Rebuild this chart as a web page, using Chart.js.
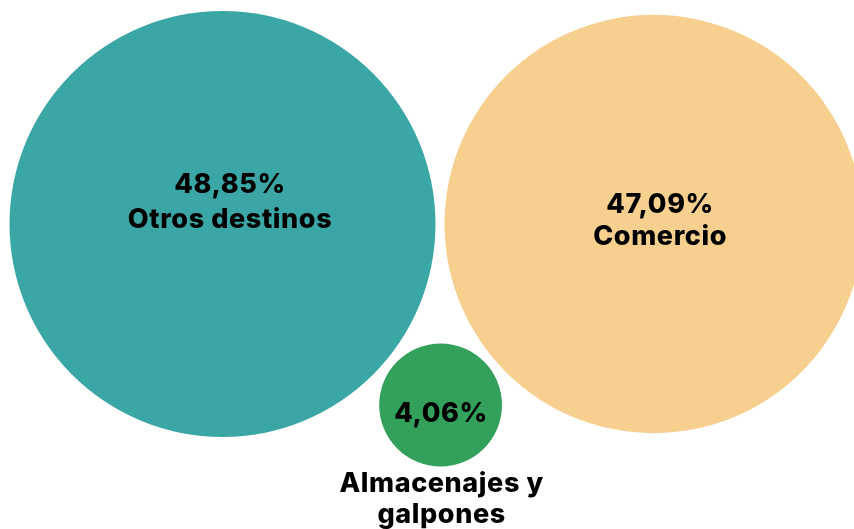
<!DOCTYPE html>
<html>
<head>
<meta charset="utf-8">
<script src="https://cdn.jsdelivr.net/npm/chart.js@4.4.0/dist/chart.umd.min.js"></script>
<style>
  html, body { margin: 0; padding: 0; background: #ffffff; }
</style>
</head>
<body>
<canvas id="bubbleChart" width="854" height="529"></canvas>
<script>
// data
const categories = ['Otros destinos', 'Comercio', 'Almacenajes y galpones'];
const shares = [48.85, 47.09, 4.06];
const valueLabels = ['48,85%', '47,09%', '4,06%'];
const colors = ['#3AA6A5', '#F7CF8F', '#33A05B'];

// label text: lines inside the bubble, lines below it
const innerLines = [['48,85%', 'Otros destinos'], ['47,09%', 'Comercio'], ['4,06%']];
const outerLines = [[], [], ['Almacenajes y', 'galpones']];

// area-proportional radii, packed: two big side by side, small one under the gap
const W = 854, H = 529;
const maxRadius = 213, gap = 9;
const k = maxRadius / Math.sqrt(Math.max(...shares));
const radii = shares.map(v => k * Math.sqrt(v));

function packBubbles(r) {
    const c1 = { x: 222.5, y: 224 };
    const D = r[0] + r[1] + gap;
    const c2 = { x: c1.x + D, y: c1.y };
    const d1 = r[0] + r[2] + gap, d2 = r[1] + r[2] + gap;
    const a = (d1 * d1 - d2 * d2 + D * D) / (2 * D);
    const h = Math.sqrt(d1 * d1 - a * a);
    const c3 = { x: c1.x + a, y: c1.y + h };
    return [c1, c2, c3];
}
const centers = packBubbles(radii);

const labelPlugin = {
    id: 'bubbleLabels',
    afterDatasetsDraw(chart) {
        const ctx = chart.ctx;
        const meta = chart.getDatasetMeta(0);
        ctx.save();
        ctx.fillStyle = '#000000';
        ctx.font = '800 27px Inter, "Liberation Sans", sans-serif';
        ctx.letterSpacing = '0.6px';
        ctx.textAlign = 'center';
        ctx.textBaseline = 'alphabetic';
        // per bubble: x shift, first baseline shift, line step
        const place = [[7.5, -31, 35], [6.5, -11, 32], [0.5, 17, 0]];
        meta.data.forEach((pt, i) => {
            const [dx, dy, step] = place[i];
            innerLines[i].forEach((t, j) => {
                ctx.fillText(t, pt.x + dx, pt.y + dy + j * step);
            });
            const r = radii[i];
            outerLines[i].forEach((t, j) => {
                ctx.fillText(t, pt.x + 1, pt.y + r + 26 + j * 31);
            });
        });
        ctx.restore();
    }
};

const ctx = document.getElementById('bubbleChart').getContext('2d');
new Chart(ctx, {
    type: 'bubble',
    data: {
        labels: categories,
        datasets: [{
            label: 'Participación',
            data: shares.map((v, i) => ({ x: centers[i].x, y: centers[i].y, r: radii[i] })),
            backgroundColor: colors,
            borderWidth: 0,
            hoverBorderWidth: 0,
            clip: false
        }]
    },
    options: {
        responsive: false,
        animation: false,
        events: [],
        layout: { padding: 0, autoPadding: false },
        plugins: {
            legend: { display: false },
            tooltip: { enabled: false }
        },
        scales: {
            x: { type: 'linear', min: 0, max: W, display: false },
            y: { type: 'linear', min: 0, max: H, reverse: true, display: false }
        }
    },
    plugins: [labelPlugin]
});
</script>
</body>
</html>
